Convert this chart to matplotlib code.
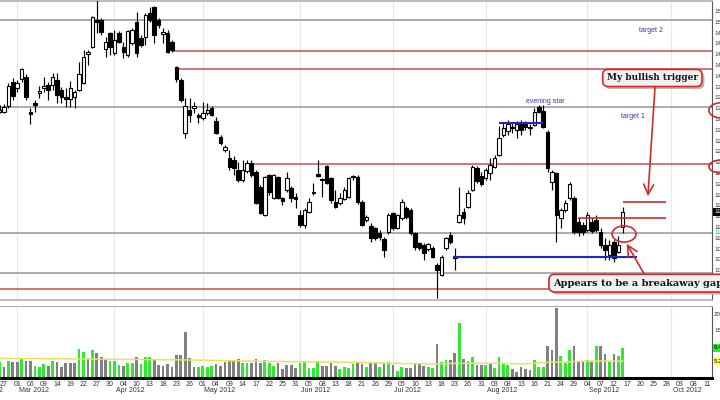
import matplotlib
matplotlib.use('Agg')
import matplotlib.pyplot as plt
import matplotlib.transforms as mtransforms
from matplotlib.patches import Ellipse
from matplotlib.ticker import FormatStrFormatter
import numpy as np
import pandas as pd

plt.rcParams['font.family'] = ['Liberation Sans', 'DejaVu Sans']

# trading sessions on the x axis (daily bars, Feb 24 - Oct 11 2012)
holidays = ['2012-04-06', '2012-05-28', '2012-07-04', '2012-09-03']
dates = pd.bdate_range('2012-02-24', '2012-10-11', freq='C', holidays=holidays)

# daily OHLC, Feb 24 .. Sep 14 2012
opens = [
    13.33, 13.33, 13.44, 13.88, 13.77, 13.94, 13.98, 13.33, 13.50, 13.68,
    13.77, 13.83, 13.83, 13.92, 13.74, 13.61, 13.57, 13.61, 13.74, 13.87,
    14.40, 14.53, 15.03, 15.03, 14.50, 14.79, 14.42, 14.79, 14.53, 14.39,
    14.61, 15.00, 14.70, 14.72, 15.16, 15.27, 15.03, 14.77, 14.79, 14.63,
    14.16, 13.92, 12.94, 13.37, 13.40, 13.27, 13.22, 13.31, 13.40, 13.16,
    12.87, 12.62, 12.48, 12.44, 12.26, 12.07, 12.24, 12.38, 12.22, 11.94,
    11.42, 12.16, 11.74, 12.12, 11.74, 11.89, 11.92, 11.76, 11.42, 11.24,
    11.48, 11.85, 12.18, 12.07, 12.33, 12.11, 11.66, 11.65, 11.72, 11.76,
    12.14, 12.12, 11.66, 11.33, 11.22, 11.18, 11.09, 10.98, 11.11, 11.46,
    11.18, 11.37, 11.55, 11.51, 11.09, 10.90, 10.87, 10.79, 10.81, 10.50,
    10.31, 10.81, 11.05, 10.66, 11.29, 11.48, 11.57, 11.89, 12.29, 12.14,
    12.11, 12.20, 12.31, 12.53, 12.90, 12.98, 13.03, 12.99, 13.11, 13.12,
    13.03, 13.09, 13.42, 13.35, 12.96, 12.03, 12.20, 11.37, 11.51, 11.74,
    11.74, 11.29, 11.24, 11.14, 11.29, 11.33, 11.11, 10.87, 10.68, 10.92,
    10.74, 11.20]
highs = [
    13.46, 13.48, 13.87, 13.96, 13.92, 14.14, 14.03, 13.40, 13.55, 13.81,
    13.98, 13.88, 14.05, 14.05, 13.79, 13.77, 13.90, 13.74, 14.26, 14.48,
    14.48, 15.11, 15.40, 15.07, 14.72, 14.81, 14.85, 14.83, 14.63, 14.85,
    14.89, 15.18, 14.76, 15.16, 15.27, 15.29, 15.07, 14.89, 14.85, 14.66,
    14.18, 13.96, 13.59, 13.59, 13.52, 13.31, 13.52, 13.50, 13.44, 13.24,
    12.90, 12.72, 12.62, 12.51, 12.40, 12.44, 12.44, 12.44, 12.26, 11.98,
    12.14, 12.18, 12.18, 12.14, 11.76, 12.22, 11.96, 11.83, 11.51, 11.55,
    11.74, 12.01, 12.44, 12.11, 12.35, 12.12, 11.89, 11.83, 11.94, 12.12,
    12.16, 12.16, 11.70, 11.42, 11.27, 11.20, 11.14, 11.01, 11.46, 11.48,
    11.44, 11.72, 11.59, 11.55, 11.11, 10.92, 10.90, 10.90, 10.85, 10.53,
    10.68, 11.01, 11.11, 10.81, 11.94, 11.55, 11.89, 12.35, 12.33, 12.22,
    12.29, 12.48, 12.53, 13.07, 13.14, 13.18, 13.12, 13.16, 13.18, 13.16,
    13.11, 13.40, 13.46, 13.46, 12.99, 12.26, 12.22, 11.55, 11.70, 12.03,
    11.77, 11.37, 11.29, 11.48, 11.37, 11.42, 11.18, 10.99, 10.96, 10.96,
    11.03, 11.57]
lows = [
    13.31, 13.31, 13.40, 13.55, 13.70, 13.88, 13.55, 13.11, 13.33, 13.59,
    13.70, 13.55, 13.74, 13.50, 13.50, 13.42, 13.42, 13.40, 13.72, 13.85,
    14.20, 14.51, 14.79, 14.76, 14.35, 14.39, 14.39, 14.61, 14.33, 14.35,
    14.57, 14.35, 14.53, 14.57, 15.00, 14.61, 14.89, 14.61, 14.42, 14.44,
    13.88, 13.52, 12.85, 13.14, 13.31, 13.13, 13.18, 13.27, 13.26, 12.92,
    12.72, 12.59, 12.26, 12.16, 12.03, 12.03, 12.20, 12.12, 11.63, 11.44,
    11.40, 11.79, 11.72, 11.72, 11.61, 11.85, 11.66, 11.55, 11.20, 11.18,
    11.46, 11.79, 12.12, 11.76, 12.00, 11.65, 11.55, 11.61, 11.70, 11.74,
    12.07, 11.63, 11.22, 11.29, 10.92, 10.96, 10.96, 10.64, 11.07, 11.14,
    11.16, 11.33, 11.35, 11.05, 10.77, 10.77, 10.59, 10.75, 10.62, 9.89,
    10.29, 10.77, 10.89, 10.40, 11.27, 11.26, 11.55, 11.87, 12.01, 11.96,
    12.07, 12.07, 12.29, 12.51, 12.87, 12.90, 12.94, 12.85, 12.90, 12.99,
    12.90, 13.07, 13.31, 13.03, 12.22, 11.89, 10.92, 11.18, 11.48, 11.70,
    11.07, 11.03, 11.05, 11.11, 11.09, 11.11, 10.81, 10.59, 10.59, 10.55,
    10.72, 11.09]
closes = [
    13.37, 13.42, 13.81, 13.62, 13.87, 14.13, 13.61, 13.29, 13.46, 13.72,
    13.81, 13.74, 13.98, 13.64, 13.61, 13.57, 13.77, 13.70, 14.03, 14.35,
    14.44, 15.09, 15.00, 14.81, 14.63, 14.53, 14.66, 14.63, 14.44, 14.83,
    14.85, 14.42, 14.57, 15.13, 15.03, 14.76, 14.94, 14.81, 14.44, 14.48,
    13.94, 13.55, 13.44, 13.27, 13.44, 13.24, 13.31, 13.37, 13.27, 12.94,
    12.76, 12.68, 12.31, 12.29, 12.07, 12.26, 12.38, 12.16, 11.65, 11.46,
    12.12, 11.85, 12.16, 11.74, 11.68, 12.11, 11.74, 11.72, 11.24, 11.51,
    11.66, 11.83, 12.14, 12.09, 12.01, 11.70, 11.57, 11.74, 11.89, 12.11,
    12.12, 11.66, 11.24, 11.38, 10.99, 10.99, 11.01, 10.77, 11.42, 11.18,
    11.42, 11.66, 11.38, 11.09, 10.83, 10.81, 10.72, 10.88, 10.64, 10.40,
    10.64, 10.99, 10.92, 10.62, 11.42, 11.37, 11.83, 12.31, 12.05, 11.99,
    12.26, 12.35, 12.48, 12.85, 13.03, 13.11, 13.05, 13.11, 12.99, 13.05,
    13.05, 13.33, 13.33, 13.05, 12.29, 12.22, 11.42, 11.51, 11.64, 12.00,
    11.11, 11.11, 11.11, 11.42, 11.12, 11.14, 10.87, 10.77, 10.87, 10.62,
    10.87, 11.48]

# volume in millions, and whether the bar is an up (green) or down (grey) day
volume = [
    5.1, 3.5, 5.4, 5.1, 5.1, 6.1, 5.4, 5.4, 3.9, 3.5,
    4.4, 3.9, 5.4, 5.1, 3.5, 4.6, 4.6, 4.6, 9.1, 8.2,
    6.1, 8.75, 7.9, 6.5, 5.8, 5.4, 5.4, 4.1, 3.9, 4.6,
    4.8, 6.5, 4.4, 6.5, 6.5, 5.8, 4.1, 3.9, 4.3, 3.5,
    7.2, 7.2, 14.3, 6.1, 3.5, 3.5, 3.75, 3.5, 3.9, 4.3,
    3.9, 5.1, 5.4, 5.4, 5.8, 4.6, 4.6, 4.6, 5.8, 4.8,
    5.6, 4.6, 3.9, 4.6, 2.8, 4.1, 4.1, 3.2, 4.6, 4.9,
    3.0, 3.0, 5.4, 3.9, 3.75, 4.8, 3.9, 2.8, 3.5, 3.0,
    4.4, 4.9, 4.4, 3.5, 4.6, 4.8, 3.5, 4.6, 5.0, 4.1,
    2.3, 3.5, 3.0, 3.0, 4.8, 4.8, 3.75, 3.3, 3.1, 10.6,
    5.1, 5.6, 5.6, 7.9, 17.3, 5.8, 5.4, 6.5, 4.1, 4.0,
    4.0, 4.8, 3.2, 6.5, 4.4, 4.0, 2.9, 2.0, 3.3, 2.8,
    2.5, 5.6, 3.3, 3.5, 10.0, 8.75, 21.8, 6.9, 4.6, 8.75,
    10.0, 5.3, 5.3, 5.6, 5.1, 10.0, 10.0, 7.5, 5.3, 7.5,
    6.9, 9.4]
vol_dir = ('gkgkkgkkgg' 'gkgkkkkkgg' 'kgkkkgggkg' 'gkgggkkkkk' 'kkkkkggggk'
           'kkkkkggkkk' 'gggkkkkkgg' 'gggkkkkggg' 'gkkgkkgkgk' 'ggkkkkkggk'
           'ggkkgkggkk' 'gkggggkkkk' 'kgggkkkggg' 'kkkgkgkkgk' 'gg')

# volume moving average (yellow line)
vol_ma_x = [0, 15, 30, 45, 60, 81, 89, 97, 104, 112, 119, 124, 134, 141]
vol_ma = [6.1, 6.0, 5.8, 5.6, 5.2, 4.9, 4.6, 4.4, 4.6, 4.6, 4.4, 4.9, 5.3, 5.25]

# horizontal levels drawn on the price chart
grey_levels = [15.03, 13.42, 11.09, 10.35]
red_levels = [14.46, 14.13, 12.37, 10.05]
red_starts = [39.2, 40.1, 57.3, 0]
blue_levels = [10.64, 13.13]
blue_starts = [102.6, 113]
blue_ends = [144.2, 123]
trigger_levels = [11.66, 11.37]
trigger_starts = [141, 130.9]
trigger_end = 150.8

RED = '#d42a2a'
XMIN, XMAX = 0.1, 161.2

fig = plt.figure(figsize=(7.2, 4.0), dpi=100)


def px_box(left, top, right, bottom):
    return [left / 720, 1 - bottom / 400, (right - left) / 720, (bottom - top) / 400]


ax = fig.add_axes(px_box(0, 1, 712, 300))
axv = fig.add_axes(px_box(0, 306, 712, 378), sharex=ax)

x = np.arange(len(closes))
o, h, l, c = map(np.array, (opens, highs, lows, closes))
up = c >= o

# month grid
month_first = [i for i in range(1, len(dates)) if dates[i].month != dates[i - 1].month]
for a in (ax, axv):
    for m in month_first:
        a.axvline(m, color='#e8e8e8', lw=0.8, zorder=0)

# levels
ax.hlines(grey_levels, XMIN, XMAX, colors='#ababab', lw=1.4, zorder=1)
ax.hlines(red_levels, red_starts, XMAX, colors='#c65050', lw=1.1, zorder=1)

# candles
ax.vlines(x, l, h, color='black', lw=0.85, zorder=3)
ax.bar(x, np.maximum(np.abs(c - o), 0.012), bottom=np.minimum(o, c), width=0.8,
       color=np.where(up, 'white', 'black'), edgecolor='black', linewidth=0.8, zorder=4)

ax.hlines(blue_levels, blue_starts, blue_ends, colors='#2424c8', lw=1.5, zorder=5)
ax.hlines(trigger_levels, trigger_starts, trigger_end, colors=RED, lw=1.2, zorder=5)

ax.set_xlim(XMIN, XMAX)
ax.set_ylim(9.848, 15.385)
ax.yaxis.tick_right()
ax.set_yticks(np.arange(10.0, 15.21, 0.2))
ax.yaxis.set_major_formatter(FormatStrFormatter('%.2f'))
ax.tick_params(axis='y', length=0, pad=1.5, labelsize=4.5, labelcolor='#333333')
ax.tick_params(axis='x', bottom=False, labelbottom=False)
ax.spines['left'].set_visible(False)
for s in ('top', 'bottom'):
    ax.spines[s].set_color('#b0b0b0')
    ax.spines[s].set_linewidth(1.2)
ax.spines['right'].set_color('#555555')
ax.spines['right'].set_linewidth(0.8)

# text notes on the price chart
note_col = '#3535b0'
ax.text(147.4, 14.83, 'target 2', color=note_col, fontsize=5, ha='center', va='center')
ax.text(143.3, 13.24, 'target 1', color=note_col, fontsize=5, ha='center', va='center')
ax.text(123.4, 13.53, 'evening star', color=note_col, fontsize=5, ha='center', va='center')

# highlighted axis values
yblend = mtransforms.blended_transform_factory(ax.transAxes, ax.transData)
ax.text(1.003, closes[-1], '%.2f' % closes[-1], transform=yblend, fontsize=4.5, color='white',
        ha='left', va='center', clip_on=False,
        bbox=dict(boxstyle='square,pad=0.25', fc='black', ec='none'))
ax.text(1.003, grey_levels[2], '%.2f' % grey_levels[2], transform=yblend, fontsize=4.5,
        color='#3a9ea0', ha='left', va='center', clip_on=False)

# annotations
serif = dict(family='DejaVu Serif', weight='bold', color='#111111')
box_kw = dict(boxstyle='round,pad=0.45,rounding_size=0.6', fc='#f2f2f2', ec=RED, lw=1.2)
shadow_kw = dict(boxstyle='round,pad=0.45,rounding_size=0.6', fc='#b8b8b8', ec='none')
shadow = mtransforms.offset_copy(ax.transData, fig=fig, x=2.5, y=-2.5, units='dots')

for tx, ty, txt, ha, fs in [(147.7, 13.96, 'My bullish trigger', 'center', 6.5),
                            (125.3, 10.16, 'Appears to be a breakaway gap', 'left', 7)]:
    ax.text(tx, ty, txt, transform=shadow, ha=ha, va='center', fontsize=fs, color='none',
            family='DejaVu Serif', weight='bold', bbox=shadow_kw, zorder=6, clip_on=False)
    ax.text(tx, ty, txt, ha=ha, va='center', fontsize=fs, bbox=box_kw, zorder=7,
            clip_on=False, **serif)

arrow_kw = dict(arrowstyle='->,head_length=0.6,head_width=0.3', color=RED, lw=1.2,
                mutation_scale=12, shrinkA=0, shrinkB=0)
ax.annotate('', xy=(146.7, 11.77), xytext=(148.3, 13.79), arrowprops=arrow_kw, zorder=6)
ax.annotate('', xy=(141.9, 10.89), xytext=(146.0, 10.31), arrowprops=arrow_kw, zorder=6)

for ex, ey, ew, eh in [(141.3, 11.07, 5.4, 0.30), (163.2, 13.36, 5.4, 0.28),
                       (163.2, 12.32, 5.4, 0.24)]:
    ax.add_patch(Ellipse((ex, ey), ew, eh, fill=False, ec=RED, lw=1.2, zorder=6,
                         clip_on=False))

# volume panel
vcolors = ['#2fe82f' if d == 'g' else '#808080' for d in vol_dir]
axv.bar(x, volume, width=0.62, color=vcolors, zorder=2)
axv.plot(vol_ma_x, vol_ma, color='#ece25a', lw=1.1, zorder=3)
axv.set_ylim(0, 22.5)
axv.yaxis.tick_right()
axv.set_yticks([15, 20])
axv.set_yticklabels(['15M', '20M'])
axv.tick_params(axis='y', length=0, pad=1.5, labelsize=4.5, labelcolor='#333333')
axv.spines['left'].set_visible(False)
axv.spines['top'].set_color('#b0b0b0')
axv.spines['right'].set_color('#555555')
axv.spines['right'].set_linewidth(0.8)
axv.spines['bottom'].set_color('black')
axv.spines['bottom'].set_linewidth(2.2)

vblend = mtransforms.blended_transform_factory(axv.transAxes, axv.transData)
axv.text(1.003, volume[-1], '%.2f' % volume[-1], transform=vblend, fontsize=4.5, color='black',
         ha='left', va='center', clip_on=False,
         bbox=dict(boxstyle='square,pad=0.25', fc='#2fe82f', ec='none'))
axv.text(1.003, vol_ma[-1], '%.2f' % vol_ma[-1], transform=vblend, fontsize=4.5, color='black',
         ha='left', va='center', clip_on=False,
         bbox=dict(boxstyle='square,pad=0.25', fc='#ffff60', ec='none'))

# date axis: every third session, month names below
tick_idx = list(range(1, len(dates), 3))
axv.set_xticks(tick_idx)
axv.set_xticklabels([dates[i].strftime('%d') for i in tick_idx])
axv.tick_params(axis='x', length=0, pad=2.5, labelsize=5, labelcolor='#333333')
xblend = mtransforms.blended_transform_factory(axv.transData, axv.transAxes)
axv.text(0.77, -0.18, 'Feb 2012', transform=xblend, fontsize=5, color='#333333',
         ha='right', va='center', clip_on=False)
for m in month_first:
    axv.text(m + 0.3, -0.18, dates[m].strftime('%b %Y'), transform=xblend, fontsize=5,
             color='#333333', ha='left', va='center', clip_on=False)

fig.savefig('out.png', dpi=100)
